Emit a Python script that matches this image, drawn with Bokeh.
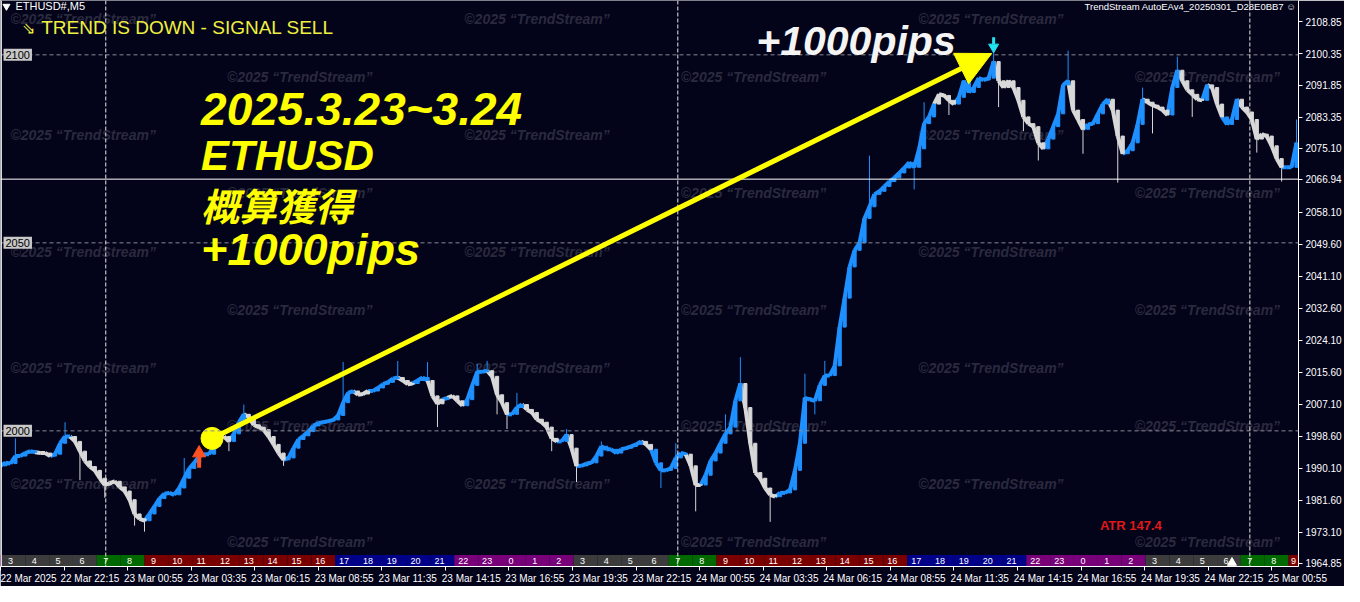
from bokeh.plotting import figure
from bokeh.models import (Range1d, LinearAxis, FixedTicker, Span, Label, Arrow, NormalHead,
                          ColumnDataSource, NumeralTickFormatter)
from bokeh.embed import file_html
from bokeh.resources import INLINE
from bokeh.core.properties import value

# ---------------- data (ETHUSD M5, one sample every 2.5 bars) ----------------
CLOSE = [
    1990.7, 1991.5, 1991.3, 1993.3, 1993.3, 1994.1, 1994.6, 1994.3, 1994.1, 1994.1,
    1993.3, 1993.8, 1996.7, 1998.5, 1998.5, 1997.2, 1994.6, 1992.0, 1990.5, 1989.5,
    1987.4, 1985.6, 1986.1, 1986.6, 1985.1, 1984.0, 1981.7, 1977.9, 1976.6, 1976.1,
    1977.9, 1979.9, 1982.0, 1983.3, 1983.5, 1983.0, 1984.8, 1987.4, 1990.0, 1991.5,
    1993.3, 1993.8, 1993.8, 1995.9, 1998.5, 1998.5, 1997.2, 1999.2, 2002.3, 2004.4,
    2003.6, 2001.6, 2001.0, 2000.3, 1998.5, 1996.4, 1994.1, 1992.3, 1992.8, 1995.4,
    1997.7, 1998.7, 1999.8, 2001.3, 2002.1, 2002.3, 2002.6, 2002.9, 2004.1, 2007.5,
    2010.1, 2010.6, 2009.6, 2009.8, 2010.6, 2010.6, 2011.4, 2012.4, 2012.9, 2013.9,
    2014.2, 2013.4, 2012.4, 2012.6, 2013.4, 2014.2, 2013.4, 2009.3, 2007.2, 2008.3,
    2008.8, 2009.3, 2008.0, 2006.7, 2008.3, 2012.1, 2015.7, 2015.7, 2016.0, 2014.5,
    2009.6, 2007.5, 2004.4, 2004.4, 2006.2, 2007.0, 2005.7, 2004.9, 2003.1, 2002.3,
    2001.0, 1998.0, 1997.2, 1997.2, 1999.0, 1995.4, 1990.7, 1990.7, 1991.3, 1991.5,
    1993.3, 1995.9, 1995.1, 1995.1, 1994.1, 1995.1, 1995.4, 1995.9, 1996.4, 1997.2,
    1996.4, 1995.1, 1991.5, 1989.5, 1989.5, 1990.0, 1992.8, 1994.1, 1993.8, 1990.7,
    1985.6, 1985.6, 1988.2, 1992.0, 1994.1, 1996.7, 1999.2, 2001.0, 2008.0, 2012.6,
    2006.2, 1996.7, 1988.9, 1987.4, 1984.8, 1983.0, 1982.5, 1983.5, 1983.5, 1984.3,
    1989.5, 1996.7, 2008.8, 2008.3, 2008.0, 2012.1, 2014.7, 2014.7, 2017.3, 2027.6,
    2035.3, 2043.6, 2048.0, 2050.0, 2056.5, 2059.6, 2062.9, 2063.7, 2065.0, 2066.3,
    2067.3, 2068.6, 2069.9, 2071.4, 2070.1, 2075.0, 2081.7, 2083.5, 2086.9, 2089.5,
    2089.2, 2087.9, 2086.9, 2088.7, 2093.1, 2090.0, 2091.3, 2093.8, 2093.3, 2093.8,
    2098.2, 2093.1, 2091.3, 2093.1, 2091.3, 2087.9, 2083.5, 2081.7, 2080.9, 2076.6,
    2075.0, 2077.6, 2080.9, 2084.3, 2092.0, 2093.1, 2085.3, 2082.8, 2080.2, 2081.5,
    2081.7, 2084.3, 2086.9, 2088.2, 2085.3, 2078.4, 2073.7, 2074.5, 2076.6, 2081.5,
    2088.2, 2087.4, 2086.6, 2086.1, 2085.3, 2084.0, 2091.3, 2095.9, 2093.1, 2090.7,
    2089.5, 2088.2, 2087.9, 2092.0, 2091.3, 2086.9, 2083.5, 2081.5, 2082.8, 2088.2,
    2086.1, 2084.8, 2082.8, 2077.6, 2078.9, 2078.4, 2075.8, 2072.4, 2070.1, 2070.1,
    2070.1, 2076.6,
]
# trend colouring of the candles: ("u" = up / blue, "d" = down / white, run length)
TREND_RUNS = [("d", 1), ("u", 7), ("d", 3), ("u", 4), ("d", 15), ("u", 15), ("d", 2), ("u", 3),
              ("d", 8), ("u", 14), ("d", 3), ("u", 6), ("d", 3), ("u", 3), ("d", 3), ("u", 1),
              ("d", 3), ("u", 5), ("d", 4), ("u", 3), ("d", 7), ("u", 2), ("d", 2), ("u", 13),
              ("d", 2), ("u", 7), ("d", 3), ("u", 8), ("d", 7), ("u", 32), ("d", 4), ("u", 8),
              ("d", 10), ("u", 5), ("d", 3), ("u", 5), ("d", 3), ("u", 4), ("d", 5), ("u", 2),
              ("d", 5), ("u", 1), ("d", 3), ("u", 3), ("d", 9), ("u", 3)]
# long wicks (sample index, extreme price)
SPIKE_IDX = [3, 13, 16, 21, 27, 29, 37, 46, 49, 57, 69, 80, 86, 88, 96, 98, 100, 102, 104,
             111, 114, 116, 121, 133, 136, 140, 146, 149, 155, 162, 164, 166, 175, 184, 186,
             191, 200, 201, 206, 209, 215, 218, 225, 230, 232, 237, 240, 253, 258, 261]
SPIKE_PRICE = [1998.0, 2002.3, 1986.9, 1982.2, 1974.8, 1973.2, 1992.8, 1994.6, 2007.0, 1990.7,
               2018.3, 2018.6, 2018.3, 2001.0, 2017.8, 2018.6, 2004.4, 2000.5, 2010.1,
               1994.6, 2000.5, 1986.4, 1997.2, 1984.8, 1996.7, 1978.6, 2004.4, 2019.6,
               1975.8, 2015.2, 2004.4, 2018.6, 2073.2, 2064.2, 2087.4, 2084.0, 2101.1,
               2086.1, 2079.7, 2071.9, 2101.1, 2073.7, 2066.0, 2091.3, 2079.1, 2099.5,
               2083.5, 2074.0, 2066.3, 2082.8]

PRICE_TICKS = [2108.85, 2100.35, 2091.85, 2083.35, 2075.10, 2058.10, 2049.60, 2041.10,
               2032.60, 2024.10, 2015.60, 2007.10, 1998.60, 1990.10, 1981.60, 1973.10, 1964.85]
GRID_LEVELS = [2100, 2050, 2000]
CURRENT_PRICE = 2066.94
DATE_TICKS = [0, 32, 64, 96, 128, 160, 192, 224, 256, 288, 320, 352, 384, 416, 448, 480,
              512, 544, 576, 608, 640]
DATE_LABELS = ["22 Mar 2025", "22 Mar 22:15", "23 Mar 00:55", "23 Mar 03:35", "23 Mar 06:15",
               "23 Mar 08:55", "23 Mar 11:35", "23 Mar 14:15", "23 Mar 16:55", "23 Mar 19:35",
               "23 Mar 22:15", "24 Mar 00:55", "24 Mar 03:35", "24 Mar 06:15", "24 Mar 08:55",
               "24 Mar 11:35", "24 Mar 14:15", "24 Mar 16:55", "24 Mar 19:35", "24 Mar 22:15",
               "25 Mar 00:55"]
DAY_BREAKS = [53, 341, 629]
HOUR_LABELS = [2, 3, 4, 5, 6, 7, 8, 9, 10, 11, 12, 13, 14, 15, 16, 17, 18, 19, 20, 21, 22, 23,
               0, 1, 2, 3, 4, 5, 6, 7, 8, 9, 10, 11, 12, 13, 14, 15, 16, 17, 18, 19, 20, 21, 22,
               23, 0, 1, 2, 3, 4, 5, 6, 7, 8, 9]
ENTRY_BAR, ENTRY_PRICE = 106.5, 1998.0
EXIT_BAR, EXIT_PRICE = 499, 2100.35
ATR_TEXT = "ATR 147.4"

# ---------------- styling ----------------
BG = "#03031a"
BLUE = "#1e90ff"
WHITE = "#d8d8d8"
YEL = "#ffff00"
FONT = "Liberation Sans"
STEP = 2.5          # bars per sample
X_END = 653.5
Y0, Y1 = 1963.93, 2114.45


def bx(px):       # reference pixel column -> bar position
    return (px - 5) / 2.0


def py(y):        # reference pixel row -> price
    return Y1 - y / 3.88


p = figure(width=1344, height=586, x_range=Range1d(0, X_END), y_range=Range1d(Y0, Y1),
           output_backend="svg", toolbar_location=None,
           x_axis_location=None, y_axis_location=None,
           min_border_left=0, min_border_right=0, min_border_top=0, min_border_bottom=0,
           background_fill_color=BG, border_fill_color=BG, outline_line_color=None)
p.xgrid.visible = False
p.ygrid.visible = False

# watermarks
wx, wy = [], []
for r in range(10):
    for c in range(3):
        wx.append(bx((15 if r % 2 == 0 else 233) + 457 * c))
        wy.append(py(19 + 60 * r))
p.text(x=wx, y=wy, text=["©2025 “TrendStream”"] * len(wx), text_font=value(FONT),
       text_font_style="bold italic", text_font_size="14px", text_color="#2a2a3e",
       text_baseline="middle", text_align="left")

# grid levels and day separators
for lv in GRID_LEVELS:
    p.add_layout(Span(location=lv, dimension="width", line_color="#8a8a96",
                      line_width=1, line_dash="4 3"))
for d in DAY_BREAKS:
    p.add_layout(Span(location=d, dimension="height", line_color="#e8e8e8",
                      line_width=1, line_dash="4 2"))
p.add_layout(Span(location=CURRENT_PRICE, dimension="width", line_color="white", line_width=1))
p.add_layout(Span(location=0.3, dimension="height", line_color="white", line_width=1.5))

# price series
trend = []
for s, n in TREND_RUNS:
    trend += [s] * n
xs = [i * STEP for i in range(len(CLOSE))]
col = [BLUE if t == "u" else WHITE for t in trend]
seg = ColumnDataSource(dict(x0=xs[:-1], y0=CLOSE[:-1], x1=xs[1:], y1=CLOSE[1:], c=col[1:],
                            lo=[min(a, b) for a, b in zip(CLOSE[:-1], CLOSE[1:])],
                            hi=[max(a, b) for a, b in zip(CLOSE[:-1], CLOSE[1:])]))
sp = ColumnDataSource(dict(x=[xs[i] for i in SPIKE_IDX], y0=[CLOSE[i] for i in SPIKE_IDX],
                           y1=SPIKE_PRICE, c=[col[i] for i in SPIKE_IDX]))
p.segment(x0="x", y0="y0", x1="x", y1="y1", color="c", line_width=1, source=sp)
p.segment(x0="x0", y0="y0", x1="x1", y1="y1", color="c", line_width=4, source=seg)
p.vbar(x="x1", bottom="lo", top="hi", width=1.6, color="c", source=seg)

# hour bar
starts = [0.5 + 12 * (k - 1) for k in range(len(HOUR_LABELS))]


def sess(h):
    if 3 <= h <= 6:
        return "#3c3c3c"
    if 7 <= h <= 8:
        return "#006a00"
    if 9 <= h <= 16:
        return "#7a0000"
    if 17 <= h <= 21:
        return "#000088"
    return "#780078"


hb_top = Y0 + 3.05
p.quad(left=starts, right=[s + 12 for s in starts], bottom=Y0, top=hb_top,
       fill_color=[sess(h) for h in HOUR_LABELS], line_color=None)
lx, lt = [], []
for s, h in zip(starts, HOUR_LABELS):
    if s + 4.5 > 0:
        lx.append(min(s + 4.5, X_END - 2.5))
        lt.append(str(h))
p.text(x=lx, y=[(Y0 + hb_top) / 2] * len(lx), text=lt, text_font=value(FONT),
       text_font_size="9px", text_color="white", text_align="center", text_baseline="middle")
p.scatter(x=[bx(1245)], y=[Y0 + 1.0], marker="triangle", size=9, color="white")

# trade annotation
p.add_layout(Arrow(end=NormalHead(size=34, fill_color=YEL, line_color=YEL),
                   x_start=ENTRY_BAR, y_start=ENTRY_PRICE, x_end=EXIT_BAR, y_end=EXIT_PRICE,
                   line_color=YEL, line_width=5))
p.scatter(x=[ENTRY_BAR], y=[ENTRY_PRICE], size=22, color=YEL)
# buy / sell signal arrows
p.segment(x0=[bx(205)], y0=[py(482)], x1=[bx(205)], y1=[py(470)], color="#ff5020", line_width=4)
p.scatter(x=[bx(205)], y=[py(467)], marker="triangle", size=13, color="#ff5020")
p.segment(x0=[bx(1005)], y0=[py(38)], x1=[bx(1005)], y1=[py(45)], color="#22e4f0", line_width=3)
p.scatter(x=[bx(1005)], y=[py(48)], marker="inverted_triangle", size=10, color="#22e4f0")
p.scatter(x=[bx(11)], y=[py(6)], marker="inverted_triangle", size=7, color="white")


# texts
def lab(txt, px, pyy, size, color, style="normal", font=FONT, align="left"):
    p.add_layout(Label(x=bx(px), y=py(pyy), text=txt, text_font=font, text_font_size=size,
                       text_color=color, text_font_style=style, text_baseline="middle",
                       text_align=align))


lab("ETHUSD#,M5", 20, 6, "11px", "white")
lab("⇘", 27, 29, "16px", "#f0f040")
lab("TREND IS DOWN - SIGNAL SELL", 46, 28, "19px", "#f0f040")
lab("TrendStream AutoEAv4_20250301_D28E0BB7 ☺", 1310, 6, "9.5px", "white", align="right")
lab("+1000pips", 766, 42, "41px", "#f4f4f4", "bold italic")
lab("2025.3.23~3.24", 207, 112, "46px", YEL, "bold italic")
lab("ETHUSD", 207, 160, "42px", YEL, "bold italic")
lab("概算獲得", 207, 210, "38px", YEL, "bold italic", font="Noto Sans CJK JP")
lab("+1000pips", 207, 257, "45px", YEL, "bold italic")
lab(ATR_TEXT, 1112, 542, "13px", "#e01818", "bold")

for lv in GRID_LEVELS:
    p.add_layout(Label(x=0, y=lv, x_offset=3, text=str(lv), text_font=FONT,
                       text_font_size="11px", text_color="black", text_baseline="middle",
                       background_fill_color="#c8c8c8", padding=2))

# right price axis (current price shown as an extra tick)
ticks = sorted(PRICE_TICKS + [CURRENT_PRICE])
ya = LinearAxis(ticker=FixedTicker(ticks=ticks), formatter=NumeralTickFormatter(format="0.00"),
                axis_line_color="white", major_tick_line_color="white", major_tick_in=0,
                major_tick_out=4, minor_tick_line_color=None, major_label_text_color="white",
                major_label_text_font=FONT, major_label_text_font_size="10px",
                major_label_standoff=3)
p.add_layout(ya, "right")

# bottom time axis: minor ticks mark the time, labels start at the tick
OFF = 13
xa = LinearAxis(ticker=FixedTicker(ticks=[t + OFF for t in DATE_TICKS], minor_ticks=DATE_TICKS),
                axis_line_color="white", major_tick_line_color=None,
                minor_tick_line_color="white", minor_tick_in=0, minor_tick_out=4,
                major_tick_in=0, major_tick_out=0,
                major_label_overrides={t + OFF: l for t, l in zip(DATE_TICKS, DATE_LABELS)},
                major_label_text_color="white", major_label_text_font=FONT,
                major_label_text_font_size="10px", major_label_standoff=2)
p.add_layout(xa, "below")

open("out.html", "w").write(file_html(p, INLINE))
